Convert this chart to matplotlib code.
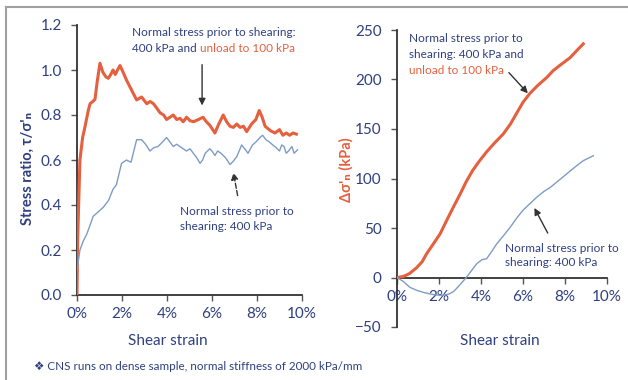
import matplotlib
matplotlib.use("Agg")
import matplotlib.pyplot as plt
from matplotlib.lines import Line2D

plt.rcParams['font.family'] = ['Lato', 'DejaVu Sans']

NAVY = '#2F3F80'
RED = '#E5603F'
BLUE = '#7E9CC4'

# ---- data (shear strain in %) ----
red_left_x = [0, 0.03, 0.13, 0.25, 0.36, 0.5, 0.58, 0.7, 0.8, 0.9, 1.02, 1.15, 1.28, 1.39, 1.5, 1.6, 1.7,
              1.8, 1.91, 2.05, 2.2, 2.43, 2.65, 2.87, 3.1, 3.25, 3.4, 3.55, 3.69, 3.85, 3.98, 4.13, 4.28,
              4.43, 4.58, 4.72, 4.87, 5.02, 5.17, 5.4, 5.6, 5.75, 5.9, 6.13, 6.3, 6.5, 6.65, 6.8, 6.95,
              7.1, 7.25, 7.4, 7.54, 7.76, 7.95, 8.1, 8.23, 8.36, 8.6, 8.8, 9.0, 9.15, 9.3, 9.45, 9.6, 9.75]
red_left_y = [0, 0.25, 0.6, 0.7, 0.75, 0.82, 0.85, 0.86, 0.87, 0.95, 1.03, 0.99, 0.97, 0.963, 0.98, 1.0, 0.98,
              1.0, 1.02, 0.99, 0.955, 0.91, 0.867, 0.88, 0.85, 0.86, 0.85, 0.83, 0.81, 0.8, 0.78, 0.79, 0.8,
              0.78, 0.785, 0.77, 0.79, 0.775, 0.77, 0.78, 0.79, 0.77, 0.755, 0.72, 0.76, 0.80, 0.77, 0.75, 0.745,
              0.76, 0.745, 0.75, 0.726, 0.76, 0.78, 0.82, 0.79, 0.75, 0.73, 0.72, 0.735, 0.71, 0.72, 0.71, 0.72, 0.715]

blue_left_x = [0, 0.13, 0.28, 0.43, 0.58, 0.72, 0.95, 1.17, 1.4, 1.6, 1.75, 1.98, 2.2, 2.4, 2.65, 2.87,
               3.05, 3.24, 3.42, 3.6, 3.8, 3.98, 4.13, 4.28, 4.43, 4.57, 4.72, 4.87, 5.02, 5.17, 5.32, 5.47,
               5.58, 5.7, 5.9, 6.0, 6.13, 6.25, 6.4, 6.6, 6.8, 6.95, 7.1, 7.32, 7.45, 7.6, 7.8, 7.95, 8.13,
               8.25, 8.4, 8.55, 8.7, 8.85, 9.0, 9.1, 9.2, 9.3, 9.4, 9.55, 9.65, 9.8]
blue_left_y = [0.11, 0.2, 0.24, 0.27, 0.31, 0.35, 0.37, 0.39, 0.42, 0.47, 0.49, 0.585, 0.6, 0.59, 0.69, 0.69,
               0.67, 0.64, 0.655, 0.66, 0.68, 0.70, 0.68, 0.66, 0.67, 0.66, 0.65, 0.64, 0.65, 0.63, 0.61, 0.585,
               0.6, 0.63, 0.65, 0.64, 0.62, 0.64, 0.63, 0.61, 0.58, 0.595, 0.615, 0.667, 0.65, 0.63, 0.667, 0.68, 0.70,
               0.71, 0.69, 0.68, 0.667, 0.655, 0.64, 0.667, 0.66, 0.63, 0.64, 0.66, 0.63, 0.645]

red_right_x = [0, 0.3, 0.6, 0.94, 1.2, 1.41, 1.7, 2.05, 2.35, 2.68, 3.0, 3.3, 3.6, 3.9, 4.27, 4.65, 5.06,
               5.4, 5.7, 6.0, 6.33, 6.7, 7.13, 7.44, 7.8, 8.24, 8.55, 8.87]
red_right_y = [0, 1, 4, 10, 16, 24, 33, 44, 57, 71, 84, 97, 108, 117, 127, 136, 145,
               155, 166, 177, 186, 194, 202, 209, 215, 222, 229, 236]

blue_right_x = [0, 0.3, 0.62, 0.95, 1.25, 1.65, 2.05, 2.3, 2.5, 2.7, 2.84, 3.05, 3.3, 3.55, 3.8, 4.05,
                4.27, 4.5, 4.75, 5.1, 5.4, 5.7, 6.0, 6.35, 6.65, 7.0, 7.3, 7.7, 8.1, 8.5, 8.87, 9.35]
blue_right_y = [0, -4, -10, -13, -15, -17, -18, -17.5, -16.5, -14, -11, -6, 0, 7, 14, 18,
                19, 26, 34, 43, 51, 60, 68, 75, 81, 87, 91, 98, 105, 112, 118, 123]

left_yticks = [0.0, 0.2, 0.4, 0.6, 0.8, 1.0, 1.2]
right_yticks = [-50, 0, 50, 100, 150, 200, 250]
xticks = [0, 2, 4, 6, 8, 10]
xtick_labels = ['0%', '2%', '4%', '6%', '8%', '10%']

W, H = 628, 380
fig = plt.figure(figsize=(W / 100, H / 100), dpi=100)

def fx(px):
    return px / W

def fy(py):
    return 1 - py / H

# frame lines of the slide
fig.add_artist(Line2D([fx(6), fx(6)], [0, fy(7)], color='#A0A0A0', lw=1.5, transform=fig.transFigure))
fig.add_artist(Line2D([fx(6), 1], [fy(7), fy(7)], color='#A0A0A0', lw=1.5, transform=fig.transFigure))

# ---- left axes ----
axL = fig.add_axes([fx(77), fy(295), fx(302) - fx(77), fy(25) - fy(295)])
axL.plot(red_left_x, red_left_y, color=RED, lw=2.2, zorder=3)
axL.plot(blue_left_x, blue_left_y, color=BLUE, lw=1.0, zorder=3)
axL.set_xlim(0, 10)
axL.set_ylim(0, 1.2)
axL.set_xticks(xticks)
axL.set_xticklabels(xtick_labels)
axL.set_yticks(left_yticks)
axL.set_yticklabels([f'{v:.1f}' for v in left_yticks])

# ---- right axes ----
axR = fig.add_axes([fx(397), fy(327), fx(607) - fx(397), fy(30) - fy(327)])
axR.plot(red_right_x, red_right_y, color=RED, lw=2.2, zorder=3)
axR.plot(blue_right_x, blue_right_y, color=BLUE, lw=1.0, zorder=3)
axR.set_xlim(0, 10)
axR.set_ylim(-50, 250)
axR.set_xticks(xticks)
axR.set_xticklabels(xtick_labels)
axR.set_yticks(right_yticks)
axR.spines['bottom'].set_position(('data', 0))

for ax in (axL, axR):
    for s in ('top', 'right'):
        ax.spines[s].set_visible(False)
    for s in ('left', 'bottom'):
        ax.spines[s].set_color('#333333')
        ax.spines[s].set_linewidth(1.3)
    ax.tick_params(axis='both', direction='out', length=4, width=1, color='#555555',
                   labelcolor=NAVY, labelsize=11)
    ax.tick_params(axis='y', pad=7)
    ax.tick_params(axis='x', pad=5)
    ax.patch.set_alpha(0)

# axis labels
fig.text(fx(168), fy(341), 'Shear strain', color=NAVY, fontsize=11, ha='center', va='center')
fig.text(fx(500), fy(341), 'Shear strain', color=NAVY, fontsize=11, ha='center', va='center')
fig.text(fx(28), fy(168), "Stress ratio, τ/σ'ₙ", color=NAVY, fontsize=10.5, ha='center', va='center',
         rotation=90, fontweight='bold')
fig.text(fx(346), fy(170), "Δσ'ₙ (kPa)", color=RED, fontsize=10.5, ha='center', va='center',
         rotation=90, fontweight='bold')

# footer
fig.text(fx(34), fy(366), "❖ CNS runs on dense sample, normal stiffness of 2000 kPa/mm",
         color=NAVY, fontsize=8.4, ha='left', va='center')

fig.canvas.draw()
renderer = fig.canvas.get_renderer()

def two_color(x, y, t1, t2, size):
    a = fig.text(fx(x), fy(y), t1, color=NAVY, fontsize=size, ha='left', va='center')
    bb = a.get_window_extent(renderer=renderer)
    fig.text(bb.x1 / fig.dpi / fig.get_figwidth(), fy(y), t2, color=RED, fontsize=size,
             ha='left', va='center')

ANN = 8.5
# left annotations
fig.text(fx(132), fy(33), 'Normal stress prior to shearing:', color=NAVY, fontsize=ANN, ha='left', va='center')
two_color(132, 48, '400 kPa and ', 'unload to 100 kPa', ANN)
fig.text(fx(180), fy(212), 'Normal stress prior to', color=NAVY, fontsize=ANN, ha='left', va='center')
fig.text(fx(180), fy(227), 'shearing: 400 kPa', color=NAVY, fontsize=ANN, ha='left', va='center')

axL.annotate('', xy=(5.56, 0.83), xytext=(5.56, 1.036),
             arrowprops=dict(arrowstyle='-|>', color='#333333', lw=1.0, mutation_scale=10))
axL.annotate('', xy=(6.93, 0.556), xytext=(7.16, 0.43),
             arrowprops=dict(arrowstyle='-|>', color='#333333', lw=1.0, ls='--', mutation_scale=10))

# right annotations
fig.text(fx(409), fy(38), 'Normal stress prior to', color=NAVY, fontsize=ANN, ha='left', va='center')
fig.text(fx(409), fy(54), 'shearing: 400 kPa and', color=NAVY, fontsize=ANN, ha='left', va='center')
fig.text(fx(409), fy(71), 'unload to 100 kPa', color=RED, fontsize=ANN, ha='left', va='center')
fig.text(fx(505), fy(248), 'Normal stress prior to', color=NAVY, fontsize=ANN, ha='left', va='center')
fig.text(fx(505), fy(263), 'shearing: 400 kPa', color=NAVY, fontsize=ANN, ha='left', va='center')

axR.annotate('', xy=(6.32, 184), xytext=(5.24, 209),
             arrowprops=dict(arrowstyle='-|>', color='#333333', lw=1.0, mutation_scale=10))
axR.annotate('', xy=(6.48, 72.7), xytext=(7.24, 42.4),
             arrowprops=dict(arrowstyle='-|>', color='#333333', lw=1.0, mutation_scale=10))

fig.savefig('out.png', dpi=100)
